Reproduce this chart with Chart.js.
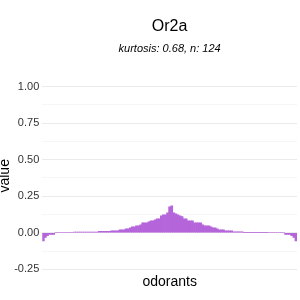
<!DOCTYPE html>
<html>
  <head>
    <title>Or2a</title>
    <meta charset="UTF-8" />
    <script src="https://cdn.jsdelivr.net/npm/chart.js@4"></script>
    <style>
      html, body { margin: 0; padding: 0; background: #fff; }
      #wrap { width: 300px; height: 300px; }
    </style>
  </head>
  <body>
    <div id="wrap"><canvas id="myChart"></canvas></div>
    <script>
      // values, left to right (124 odorants)
      var values = [
        -0.055, -0.032, -0.02, -0.011, -0.011, -0.011,
        0, 0, 0, 0, 0, 0, 0, 0, 0,
        0.005, 0.005, 0.005, 0.005, 0.005, 0.005, 0.005, 0.005, 0.005, 0.005, 0.005, 0.005,
        0.009, 0.009, 0.009, 0.009, 0.009, 0.009,
        0.014, 0.014, 0.014, 0.014,
        0.02, 0.02, 0.02,
        0.027, 0.027, 0.034, 0.04, 0.04, 0.048, 0.048,
        0.055, 0.068, 0.068, 0.068, 0.075, 0.082, 0.082, 0.089, 0.096, 0.096,
        0.116, 0.123, 0.123, 0.137, 0.178,
        0.185, 0.137, 0.13, 0.123, 0.116, 0.11,
        0.096, 0.096, 0.082, 0.082, 0.082,
        0.068, 0.068, 0.068, 0.068, 0.055,
        0.048, 0.048, 0.048, 0.041, 0.034, 0.034, 0.027,
        0.02, 0.02, 0.02, 0.014, 0.014, 0.014, 0.014,
        0.007, 0.007, 0.007, 0.007, 0.007,
        0.003, 0.003, 0.003, 0.003, 0.003, 0.003, 0.003, 0.003, 0.003, 0.003, 0.003, 0.003,
        0, 0, 0, 0, 0, 0, 0, 0,
        -0.011, -0.011, -0.011, -0.02, -0.032, -0.055
      ];
      var odorants = values.map(function(v, i) { return "odorant " + (i + 1); });
      var yTicks = [-0.25, -0.125, 0, 0.125, 0.25, 0.375, 0.5, 0.625, 0.75, 0.875, 1.0];
      var yLabels = [-0.25, 0, 0.25, 0.5, 0.75, 1.0];

      var font = "'Liberation Sans', Arial, sans-serif";

      var ctx = document.getElementById("myChart").getContext("2d");
      var chart = new Chart(ctx, {
        type: "bar",
        data: {
          labels: odorants,
          datasets: [
            {
              label: "value",
              backgroundColor: "#b565da",
              borderWidth: 0,
              data: values,
              categoryPercentage: 1.0,
              barPercentage: 1.0
            }
          ]
        },
        options: {
          responsive: true,
          maintainAspectRatio: false,
          animation: false,
          layout: { padding: { top: 17, right: 3, bottom: 9, left: 0 } },
          plugins: {
            legend: { display: false },
            tooltip: { enabled: false },
            title: {
              display: true,
              text: "Or2a",
              fullSize: false,
              color: "#000",
              font: { family: font, size: 16, weight: "normal" },
              padding: { top: 0, bottom: 6.5 }
            },
            subtitle: {
              display: true,
              text: "kurtosis: 0.68, n: 124",
              fullSize: false,
              color: "#000",
              font: { family: font, size: 11, style: "italic" },
              padding: { top: 0, bottom: 23.5 }
            }
          },
          scales: {
            x: {
              grid: { display: false, drawTicks: false },
              border: { display: false },
              ticks: { display: false },
              title: {
                display: true,
                text: "odorants",
                color: "#000",
                font: { family: font, size: 14 },
                padding: { top: 2, bottom: 0 }
              }
            },
            y: {
              min: -0.27,
              max: 1.05,
              afterBuildTicks: function(scale) {
                scale.ticks = yTicks.map(function(v) { return { value: v }; });
              },
              grid: {
                drawTicks: false,
                lineWidth: 1,
                color: function(c) {
                  return yLabels.indexOf(c.tick.value) >= 0 ? "#ebebeb" : "#f6f6f6";
                }
              },
              border: { display: false },
              ticks: {
                padding: 3,
                color: "#333",
                font: { family: font, size: 11 },
                autoSkip: false,
                callback: function(v) {
                  return yLabels.indexOf(v) >= 0 ? v.toFixed(2) : "";
                }
              },
              title: {
                display: true,
                text: "value",
                color: "#000",
                font: { family: font, size: 14, lineHeight: 0.8 },
                padding: { top: 0, bottom: 0 }
              }
            }
          }
        }
      });
    </script>
  </body>
</html>
